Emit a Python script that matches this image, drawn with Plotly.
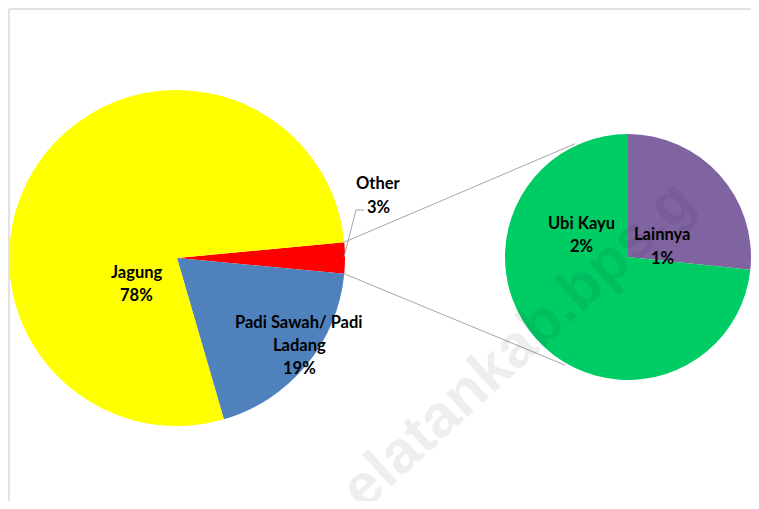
import math
import plotly.graph_objects as go

# ---- data ----
main_labels = ["Other", "Padi Sawah/ Padi<br>Ladang", "Jagung"]
main_values = [3.0, 19.0, 78.0]
main_colors = ["#FF0000", "#4F81BD", "#FFFF00"]

sub_labels = ["Lainnya", "Ubi Kayu"]
sub_values = [0.8, 2.2]
sub_colors = ["#8064A2", "#00CC66"]

# the page shows the figure inside an 8px body margin
OFF = 8
W, H = 759 - 2 * OFF, 509 - 2 * OFF


def px(x):
    return (x - OFF) / W


def py(y):
    return 1 - (y - OFF) / H


def clamp(v):
    return max(0.0, min(1.0, v))


# main pie geometry (window pixels)
mcx, mcy, mr = 177, 258, 168
# secondary pie geometry (window pixels)
scx, scy, sr = 628, 257, 123

other_share = main_values[0] / sum(main_values) * 360.0
rotation_main = 90 - other_share / 2

fig = go.Figure()
fig.add_trace(go.Pie(
    labels=main_labels, values=main_values, sort=False, direction="clockwise",
    rotation=rotation_main, marker=dict(colors=main_colors, line=dict(width=0)),
    textinfo="none", hoverinfo="label+value",
    domain=dict(x=[clamp(px(mcx - mr)), clamp(px(mcx + mr))],
                y=[clamp(py(mcy + mr)), clamp(py(mcy - mr))]),
    showlegend=False,
))
fig.add_trace(go.Pie(
    labels=sub_labels, values=sub_values, sort=False, direction="clockwise",
    rotation=0, marker=dict(colors=sub_colors, line=dict(width=0)),
    textinfo="none", hoverinfo="label+value",
    domain=dict(x=[clamp(px(scx - sr)), clamp(px(scx + sr))],
                y=[clamp(py(scy + sr)), clamp(py(scy - sr))]),
    showlegend=False,
))

# label positions (window pixel centres)
label_pos = {
    "Jagung": (136, 283),
    "Padi Sawah/ Padi<br>Ladang": (299, 345),
    "Other": (378, 195),
    "Ubi Kayu": (581, 234),
    "Lainnya": (662, 246),
}
annotations = []
line_gap = 23
all_labels = main_labels + sub_labels
all_values = main_values + sub_values
for lab, val in zip(all_labels, all_values):
    lines = lab.split("<br>") + [f"{val:.0f}%"]
    cx, cy = label_pos[lab]
    n = len(lines)
    for i, t in enumerate(lines):
        yy = cy + (i - (n - 1) / 2) * line_gap
        annotations.append(dict(
            x=px(cx), y=py(yy), xref="paper", yref="paper", text=f"<b>{t}</b>",
            showarrow=False, xanchor="center", yanchor="middle",
            font=dict(family="Lato", size=16.5, color="#000000"),
        ))

# watermark
annotations.append(dict(
    x=px(516), y=py(344), xref="paper", yref="paper", text="<b>elatankab.bps.g</b>",
    showarrow=False, textangle=-42.5, xanchor="center", yanchor="middle",
    font=dict(family="Liberation Sans", size=60, color="rgba(0,0,0,0.065)"),
))

# connector lines from the "Other" slice to the secondary pie
half = math.radians(other_share / 2)
p_top = (mcx + mr * math.cos(half), mcy - mr * math.sin(half))
p_bot = (mcx + mr * math.cos(half), mcy + mr * math.sin(half))
a_top = math.radians(115)
a_bot = math.radians(-120)
s_top = (scx + (sr + 2) * math.cos(a_top), scy - (sr + 2) * math.sin(a_top))
s_bot = (scx + (sr + 2) * math.cos(a_bot), scy - (sr + 2) * math.sin(a_bot))

frame_color = "#D9D9D9"
shapes = [
    dict(type="line", xref="paper", yref="paper", x0=px(p_top[0]), y0=py(p_top[1]),
         x1=px(s_top[0]), y1=py(s_top[1]), line=dict(color="#A6A6A6", width=1)),
    dict(type="line", xref="paper", yref="paper", x0=px(p_bot[0]), y0=py(p_bot[1]),
         x1=px(s_bot[0]), y1=py(s_bot[1]), line=dict(color="#A6A6A6", width=1)),
    # leader line for "Other"
    dict(type="path", xref="paper", yref="paper",
         path=f"M {px(344)} {py(257)} L {px(356)} {py(210)} L {px(364)} {py(210)}",
         line=dict(color="#A6A6A6", width=1)),
    # chart frame: left and top edges only (the rest is cropped away)
    dict(type="line", xref="paper", yref="paper", x0=px(9), y0=0, x1=px(9), y1=py(9),
         line=dict(color=frame_color, width=1.5), layer="below"),
    dict(type="line", xref="paper", yref="paper", x0=px(9), y0=py(9), x1=1, y1=py(9),
         line=dict(color=frame_color, width=1.5), layer="below"),
]

fig.update_layout(
    margin=dict(l=0, r=0, t=0, b=0),
    paper_bgcolor="#FFFFFF", plot_bgcolor="#FFFFFF",
    annotations=annotations, shapes=shapes,
    showlegend=False,
)
fig.write_html("out.html")
